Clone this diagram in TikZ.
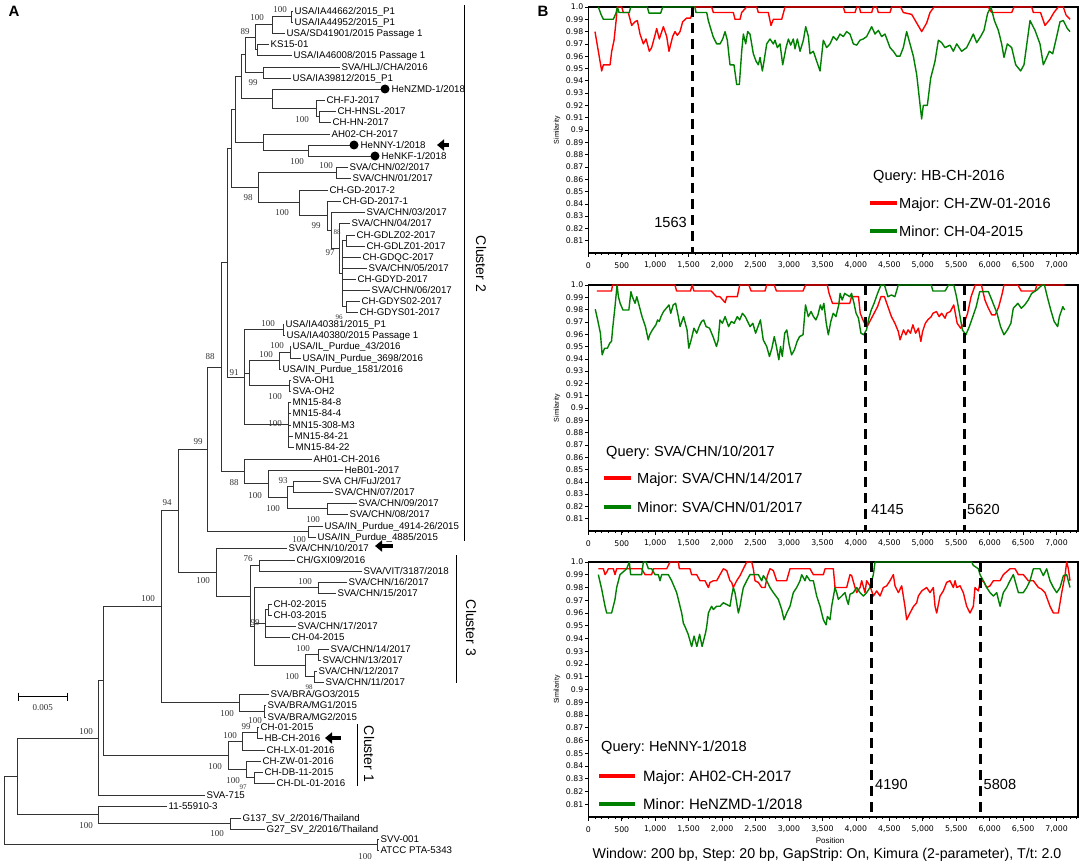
\documentclass[tikz,border=0pt]{standalone}
\usepackage{fontspec}
\setmainfont{Liberation Sans}
\newfontfamily\bsfont{Liberation Serif}
\newfontfamily\tickfont{DejaVu Sans}
\usetikzlibrary{arrows.meta}
\frenchspacing
\definecolor{simred}{RGB}{255,0,0}
\definecolor{simgreen}{RGB}{0,128,0}
\tikzset{
 br/.style={line width=0.9pt, draw=black!80},
 tip/.style={anchor=base west, inner sep=0pt, yshift=-3.5pt, font=\fontsize{9.7}{10}\selectfont},
 bs/.style={inner sep=0pt, font=\bsfont\fontsize{9}{10}\selectfont, text=black!80},
 bssmall/.style={inner sep=0pt, font=\bsfont\fontsize{7}{8}\selectfont, text=black!80},
 dot/.style={circle, fill=black, inner sep=0pt, minimum size=9pt},
 flagarrow/.style={line width=4.5pt, -{Triangle[length=7pt,width=11pt]}},
 clusterbar/.style={line width=1pt},
 clusterlab/.style={rotate=-90, font=\fontsize{14}{16}\selectfont, inner sep=0pt},
 panellab/.style={font=\bfseries\fontsize{15}{16}\selectfont, inner sep=0pt},
 frame/.style={line width=1.3pt},
 ylab/.style={anchor=east, inner sep=0pt, font=\tickfont\fontsize{7.8}{9}\selectfont},
 xlab/.style={inner sep=0pt, font=\tickfont\fontsize{7.8}{9}\selectfont},
 simlab/.style={rotate=90, inner sep=0pt, font=\fontsize{7}{8}\selectfont},
 redcurve/.style={draw=simred, line width=1.4pt, line join=round},
 greencurve/.style={draw=simgreen, line width=1.4pt, line join=round},
 breakline/.style={line width=3pt, dash pattern=on 10pt off 6pt},
 legtext/.style={anchor=base west, inner sep=0pt, yshift=-5.2pt, font=\fontsize{14.6}{16}\selectfont},
 redleg/.style={draw=simred, line width=4pt},
 greenleg/.style={draw=simgreen, line width=4pt},
 bigtext/.style={inner sep=0pt, font=\fontsize{14.6}{16}\selectfont},
}
\newcommand\simaxes[2]{%
 \pgfmathsetmacro\ybot{#1+0.2*#2}
 \pgfmathsetmacro\ystep{#2/100}
 \draw[frame] (588.3,#1) rectangle (1078,\ybot);
 \foreach \i/\lab in {0/1.0,1/0.99,2/0.98,3/0.97,4/0.96,5/0.95,6/0.94,7/0.93,8/0.92,9/0.91,10/0.9,11/0.89,12/0.88,13/0.87,14/0.86,15/0.85,16/0.84,17/0.83,18/0.82,19/0.81}{
   \pgfmathsetmacro\yy{#1+\i*\ystep}
   \draw[line width=0.6pt] (585,\yy) -- (588.3,\yy);
   \node[ylab] at (583.5,\yy) {\lab};
 }
 \foreach \p/\lab in {0/0,500/500,1000/{1,000},1500/{1,500},2000/{2,000},2500/{2,500},3000/{3,000},3500/{3,500},4000/{4,000},4500/{4,500},5000/{5,000},5500/{5,500},6000/{6,000},6500/{6,500},7000/{7,000}}{
   \pgfmathsetmacro\xx{588.3+0.0669*\p}
   \draw[line width=0.6pt] (\xx,\ybot) -- ({\xx},{\ybot+4});
   \node[xlab] at ({\xx},{\ybot+12.5}) {\lab};
 }
 \foreach \p in {100,200,...,7300}{
   \pgfmathsetmacro\xx{588.3+0.0669*\p}
   \draw[line width=0.4pt] (\xx,\ybot) -- ({\xx},{\ybot+2});
 }
 \node[simlab] at (557,{#1+0.1*#2}) {Similarity};
}
\begin{document}
\begin{tikzpicture}[x=1pt,y=-1pt]
\useasboundingbox[fill=white] (0,0) rectangle (1084,864);

% ---------------- Panel A: tree ----------------
\node[panellab] (labA) at (14,11) {A};

% branches
\draw[br] (293,11) -- (291,11) -- (291,22) -- (293,22);
\draw[br] (291,16.5) -- (272,16.5) -- (272,33) -- (285,33);
\draw[br] (269,44) -- (257,44) -- (257,55) -- (292,55);
\draw[br] (272,24.75) -- (255,24.75) -- (255,49.5) -- (257,49.5);
\draw[br] (340,67) -- (263,67) -- (263,78) -- (291,78);
\draw[br] (255,37.1) -- (245,37.1) -- (245,72.5) -- (263,72.5);
\draw[br] (336,111) -- (319,111) -- (319,122) -- (331,122);
\draw[br] (325,100) -- (316,100) -- (316,116.5) -- (319,116.5);
\draw[br] (381,89) -- (272,89) -- (272,108.25) -- (316,108.25);
\draw[br] (245,54.8) -- (241,54.8) -- (241,98.6) -- (272,98.6);
\draw[br] (350,145) -- (308,145) -- (308,156) -- (371,156);
\draw[br] (330,134) -- (263,134) -- (263,150.5) -- (308,150.5);
\draw[br] (241,76.7) -- (235,76.7) -- (235,142.25) -- (263,142.25);
\draw[br] (348,167) -- (336,167) -- (336,178) -- (351,178);
\draw[br] (360,301) -- (346,301) -- (346,312) -- (358,312);
\draw[br] (355,235) -- (346,235) -- (346,246) -- (365,246);
\draw[br] (346,240.5) -- (342,240.5) -- (342,306.5) -- (346,306.5);
\draw[br] (342,257) -- (361,257) (342,268) -- (367,268) (342,279) -- (356,279) (342,290) -- (370,290);
\draw[br] (350,223) -- (339,223) -- (339,273.5) -- (342,273.5);
\draw[br] (365,212) -- (331,212) -- (331,248.25) -- (339,248.25);
\draw[br] (341,201) -- (327,201) -- (327,230.1) -- (331,230.1);
\draw[br] (328,190) -- (299,190) -- (299,215.6) -- (327,215.6);
\draw[br] (336,172.5) -- (258,172.5) -- (258,202.8) -- (299,202.8);
\draw[br] (235,109.5) -- (231,109.5) -- (231,187.65) -- (258,187.65);
\draw[br] (284,324) -- (283,324) -- (283,335) -- (285,335);
\draw[br] (291,346) -- (290,346) -- (290,358) -- (301,358);
\draw[br] (290,352) -- (279,352) -- (279,369) -- (281,369);
\draw[br] (291,380) -- (289,380) -- (289,391) -- (291,391);
\draw[br] (279,360.5) -- (249,360.5) -- (249,385.5) -- (289,385.5);
\draw[br] (291,402) -- (288,402) -- (288,447) -- (294,447) (288,413) -- (291,413) (288,425) -- (291,425) (288,436) -- (293,436);
\draw[br] (283,329.5) -- (244,329.5) -- (244,424.5) -- (288,424.5) (244,373) -- (249,373);
\draw[br] (231,148.6) -- (227,148.6) -- (227,377) -- (244,377);
\draw[br] (321,481) -- (293,481) -- (293,492) -- (333,492);
\draw[br] (357,503) -- (327,503) -- (327,514) -- (348,514);
\draw[br] (293,486.5) -- (287,486.5) -- (287,508.5) -- (327,508.5);
\draw[br] (343,470) -- (268,470) -- (268,497.5) -- (287,497.5);
\draw[br] (312,459) -- (244,459) -- (244,483.75) -- (268,483.75);
\draw[br] (227,262.8) -- (221,262.8) -- (221,471.4) -- (244,471.4);
\draw[br] (323,526) -- (308,526) -- (308,537) -- (316,537);
\draw[br] (221,367.1) -- (207,367.1) -- (207,531.5) -- (308,531.5);
\draw[br] (295,560) -- (259,560) -- (259,571) -- (362,571);
\draw[br] (347,582) -- (318,582) -- (318,593) -- (336,593);
\draw[br] (272,604) -- (268,604) -- (268,615) -- (272,615);
\draw[br] (268,609.5) -- (265,609.5) -- (265,637) -- (290,637) (265,626) -- (296,626);
\draw[br] (329,649) -- (318,649) -- (318,660) -- (321,660);
\draw[br] (317,671) -- (314,671) -- (314,682) -- (324,682);
\draw[br] (318,654.5) -- (305,654.5) -- (305,676.5) -- (314,676.5);
\draw[br] (318,587.5) -- (254,587.5) -- (254,665.5) -- (305,665.5) (254,623.25) -- (265,623.25);
\draw[br] (259,565.5) -- (250,565.5) -- (250,626.5) -- (254,626.5);
\draw[br] (287,548) -- (216,548) -- (216,596) -- (250,596);
\draw[br] (207,449.3) -- (178,449.3) -- (178,572) -- (216,572);
\draw[br] (266,705) -- (264,705) -- (264,717) -- (266,717);
\draw[br] (269,694) -- (239,694) -- (239,711) -- (264,711);
\draw[br] (178,510.65) -- (161,510.65) -- (161,702.5) -- (239,702.5);
\draw[br] (259,727) -- (257,727) -- (257,738) -- (263,738);
\draw[br] (257,732.5) -- (242,732.5) -- (242,750) -- (265,750);
\draw[br] (263,772) -- (254,772) -- (254,783) -- (275,783);
\draw[br] (261,761) -- (246,761) -- (246,777.5) -- (254,777.5);
\draw[br] (242,741.25) -- (228,741.25) -- (228,769.25) -- (246,769.25);
\draw[br] (161,606.6) -- (103,606.6) -- (103,755.25) -- (228,755.25);
\draw[br] (103,680.9) -- (98,680.9) -- (98,795) -- (205,795);
\draw[br] (241,818) -- (230,818) -- (230,829) -- (265,829);
\draw[br] (167,806) -- (98,806) -- (98,823.5) -- (230,823.5);
\draw[br] (98,737.95) -- (17,737.95) -- (17,814.75) -- (98,814.75);
\draw[br] (379,839) -- (377,839) -- (377,850) -- (379,850);
\draw[br] (17,776.35) -- (4,776.35) -- (4,844.5) -- (377,844.5);

% tip labels
\node[tip] (t01) at (294.5,11) {USA/IA44662/2015\_P1};
\node[tip] (t02) at (294.5,22) {USA/IA44952/2015\_P1};
\node[tip] (t03) at (286.5,33) {USA/SD41901/2015 Passage 1};
\node[tip] (t04) at (270.5,44) {KS15-01};
\node[tip] (t05) at (293.5,55) {USA/IA46008/2015 Passage 1};
\node[tip] (t06) at (341.5,67) {SVA/HLJ/CHA/2016};
\node[tip] (t07) at (292.5,78) {USA/IA39812/2015\_P1};
\node[tip] (t08) at (391.5,89) {HeNZMD-1/2018};
\node[tip] (t09) at (326.5,100) {CH-FJ-2017};
\node[tip] (t10) at (337.5,111) {CH-HNSL-2017};
\node[tip] (t11) at (332.5,122) {CH-HN-2017};
\node[tip] (t12) at (331.5,134) {AH02-CH-2017};
\node[tip] (t13) at (360.5,145) {HeNNY-1/2018};
\node[tip] (t14) at (381.5,156) {HeNKF-1/2018};
\node[tip] (t15) at (349.5,167) {SVA/CHN/02/2017};
\node[tip] (t16) at (352.5,178) {SVA/CHN/01/2017};
\node[tip] (t17) at (329.5,190) {CH-GD-2017-2};
\node[tip] (t18) at (342.5,201) {CH-GD-2017-1};
\node[tip] (t19) at (366.5,212) {SVA/CHN/03/2017};
\node[tip] (t20) at (351.5,223) {SVA/CHN/04/2017};
\node[tip] (t21) at (356.5,235) {CH-GDLZ02-2017};
\node[tip] (t22) at (366.5,246) {CH-GDLZ01-2017};
\node[tip] (t23) at (362.5,257) {CH-GDQC-2017};
\node[tip] (t24) at (368.5,268) {SVA/CHN/05/2017};
\node[tip] (t25) at (357.5,279) {CH-GDYD-2017};
\node[tip] (t26) at (371.5,290) {SVA/CHN/06/2017};
\node[tip] (t27) at (361.5,301) {CH-GDYS02-2017};
\node[tip] (t28) at (359.5,312) {CH-GDYS01-2017};
\node[tip] (t29) at (285.5,324) {USA/IA40381/2015\_P1};
\node[tip] (t30) at (286.5,335) {USA/IA40380/2015 Passage 1};
\node[tip] (t31) at (292.5,346) {USA/IL\_Purdue\_43/2016};
\node[tip] (t32) at (302.5,358) {USA/IN\_Purdue\_3698/2016};
\node[tip] (t33) at (282.5,369) {USA/IN\_Purdue\_1581/2016};
\node[tip] (t34) at (292.5,380) {SVA-OH1};
\node[tip] (t35) at (292.5,391) {SVA-OH2};
\node[tip] (t36) at (292.5,402) {MN15-84-8};
\node[tip] (t37) at (292.5,413) {MN15-84-4};
\node[tip] (t38) at (292.5,425) {MN15-308-M3};
\node[tip] (t39) at (294.5,436) {MN15-84-21};
\node[tip] (t40) at (295.5,447) {MN15-84-22};
\node[tip] (t41) at (313.5,459) {AH01-CH-2016};
\node[tip] (t42) at (344.5,470) {HeB01-2017};
\node[tip] (t43) at (322.5,481) {SVA CH/FuJ/2017};
\node[tip] (t44) at (334.5,492) {SVA/CHN/07/2017};
\node[tip] (t45) at (358.5,503) {SVA/CHN/09/2017};
\node[tip] (t46) at (349.5,514) {SVA/CHN/08/2017};
\node[tip] (t47) at (324.5,526) {USA/IN\_Purdue\_4914-26/2015};
\node[tip] (t48) at (317.5,537) {USA/IN\_Purdue\_4885/2015};
\node[tip] (t49) at (288.5,548) {SVA/CHN/10/2017};
\node[tip] (t50) at (296.5,560) {CH/GXI09/2016};
\node[tip] (t51) at (363.5,571) {SVA/VIT/3187/2018};
\node[tip] (t52) at (348.5,582) {SVA/CHN/16/2017};
\node[tip] (t53) at (337.5,593) {SVA/CHN/15/2017};
\node[tip] (t54) at (273.5,604) {CH-02-2015};
\node[tip] (t55) at (273.5,615) {CH-03-2015};
\node[tip] (t56) at (297.5,626) {SVA/CHN/17/2017};
\node[tip] (t57) at (291.5,637) {CH-04-2015};
\node[tip] (t58) at (330.5,649) {SVA/CHN/14/2017};
\node[tip] (t59) at (322.5,660) {SVA/CHN/13/2017};
\node[tip] (t60) at (318.5,671) {SVA/CHN/12/2017};
\node[tip] (t61) at (325.5,682) {SVA/CHN/11/2017};
\node[tip] (t62) at (270.5,694) {SVA/BRA/GO3/2015};
\node[tip] (t63) at (267.5,705) {SVA/BRA/MG1/2015};
\node[tip] (t64) at (267.5,717) {SVA/BRA/MG2/2015};
\node[tip] (t65) at (260.5,727) {CH-01-2015};
\node[tip] (t66) at (264.5,738) {HB-CH-2016};
\node[tip] (t67) at (266.5,750) {CH-LX-01-2016};
\node[tip] (t68) at (262.5,761) {CH-ZW-01-2016};
\node[tip] (t69) at (264.5,772) {CH-DB-11-2015};
\node[tip] (t70) at (276.5,783) {CH-DL-01-2016};
\node[tip] (t71) at (206.5,795) {SVA-715};
\node[tip] (t72) at (168.5,806) {11-55910-3};
\node[tip] (t73) at (242.5,818) {G137\_SV\_2/2016/Thailand};
\node[tip] (t74) at (266.5,829) {G27\_SV\_2/2016/Thailand};
\node[tip] (t75) at (380.5,839) {SVV-001};
\node[tip] (t76) at (380.5,850) {ATCC PTA-5343};

% markers
\node[dot] (dNZ) at (385,89) {};
\node[dot] (dNY) at (354,145) {};
\node[dot] (dKF) at (375,156) {};
\coordinate (a1s) at (449,145); \coordinate (a1e) at (437,145);
\coordinate (a2s) at (393,546); \coordinate (a2e) at (375,546);
\coordinate (a3s) at (341,738); \coordinate (a3e) at (325,738);
\draw[flagarrow] (a1s) -- (a1e);
\draw[flagarrow] (a2s) -- (a2e);
\draw[flagarrow] (a3s) -- (a3e);

% bootstrap values
\foreach \x/\y/\t in {280/10/100,257/18/100,245/32/89,253/83/99,302/120/100,297/162/100,326/166/100,
 248/198/98,282/213/100,316/226/99,330/253/97,268/324/100,277/346/100,266/355/100,
 234/373/91,275/397/100,275/424/100,210/357/88,198/442/99,234/483/88,283/481/93,255/496/100,273/509/100,
 313/520/100,167/503/94,248/559/76,203/581/100,305/582/100,148/599/100,255/623/99,303/649/100,
 292/677/100,227/714/100,86/732/100,255/721/100,246/727/99,230/736/100,215/767/100,233/781/100,
 86/826/100,217/834/100,365/857/100}
 \node[bs] at (\x,\y) {\t};
\node[bssmall] (bs88s) at (337,232) {88};
\node[bssmall] (bs96) at (339,317) {96};
\node[bssmall] (bs98s) at (309,687) {98};
\node[bssmall] (bs97s) at (243,787.5) {97};
\node[bs] (bs100c) at (299,539.5) {100};

% scale bar
\draw[line width=0.9pt] (18.3,692.5) -- (18.3,701) (18.3,696.7) -- (67.7,696.7) (67.7,692.5) -- (67.7,701);
\node[bs] (scl) at (42.7,708) {0.005};

% clusters
\draw[clusterbar] (464,5) -- (464,541);
\node[clusterlab] (c2) at (481,264) {Cluster 2};
\draw[clusterbar] (456,555) -- (456,683);
\node[clusterlab] (c3) at (471,628) {Cluster 3};
\draw[clusterbar] (357,724) -- (357,786);
\node[clusterlab] (c1) at (369,754) {Cluster 1};

% ---------------- Panel B ----------------
\node[panellab] (labB) at (543,11) {B};

% plot 1
\simaxes{7}{1230}
\begin{scope}[shift={(588.3,1237)}, x=0.0669pt, y=1230pt]
\draw[redcurve] plot coordinates {(100,.980) (150,.964) (200,.948) (225,.953) (325,.953) (350,.964) (385,.973) (414,.988) (434,1.0) (499,1.0) (524,.9955) (598,.9955) (648,.985) (698,.988) (733,.989) (773,.978) (823,.970) (863,.974) (912,.964) (947,.967) (997,.977) (1022,.9825) (1062,.974) (1122,.984) (1172,.976) (1206,.964) (1261,.976) (1296,.98) (1331,.977) (1371,.98) (1411,.988) (1471,.991) (1530,.991) (1580,1.0) (1844,1.0) (1869,.9955) (2168,.9955) (2193,.99) (2268,.99) (2293,.9955) (2367,1.0) (2517,1.0) (2542,.9955) (2691,.9955) (2731,.985) (2766,.99) (2891,.99) (2941,1.0) (3812,1.0) (3837,.9955) (3987,.9955) (4012,1.0) (4052,1.0) (4071,.9955) (4236,.9955) (4261,1.0) (4311,1.0) (4336,.9955) (4510,.9955) (4535,1.0) (4669,1.0) (4709,.9955) (4834,.994) (4909,.987) (4984,.98) (5058,.987) (5108,.9955) (5168,1.0) (5980,1.0) (6030,.9955) (6329,.9955) (6364,1.0) (6628,1.0) (6653,.9955) (6760,.9955) (6827,.985) (6902,.99) (6960,.9955) (7026,1.0) (7101,1.0) (7141,.9935) (7201,.99)};
\draw[greencurve] plot coordinates {(150,1.0) (190,.994) (225,.99) (374,.99) (414,.995) (434,1.0) (459,.9955) (613,.9955) (633,1.0) (882,1.0) (907,.995) (1082,.995) (1112,1.0) (1595,1.0) (1610,.9955) (1770,.9955) (1794,.989) (1829,.9825) (1869,.9755) (1919,.97) (1969,.97) (2009,.974) (2044,.98) (2078,.973) (2118,.953) (2178,.953) (2218,.937) (2258,.937) (2293,.964) (2318,.978) (2353,.97) (2382,.98) (2417,.978) (2467,.962) (2507,.956) (2542,.953) (2567,.959) (2602,.948) (2627,.956) (2667,.97) (2716,.974) (2766,.97) (2791,.973) (2826,.967) (2866,.97) (2906,.953) (2956,.967) (2991,.974) (3025,.969) (3065,.974) (3090,.966) (3125,.974) (3165,.964) (3215,.973) (3250,.984) (3290,.976) (3314,.962) (3364,.964) (3414,.956) (3464,.948) (3513,.973) (3563,.967) (3613,.97) (3663,.976) (3713,.973) (3762,.978) (3812,.976) (3862,.98) (3912,.978) (3962,.97) (4012,.969) (4061,.973) (4111,.974) (4161,.976) (4236,.984) (4286,.978) (4336,.981) (4385,.976) (4435,.978) (4510,.967) (4560,.964) (4610,.96) (4659,.96) (4709,.967) (4759,.98) (4809,.97) (4859,.96) (4909,.945) (4948,.926) (4983,.909) (5008,.92) (5068,.92) (5118,.942) (5183,.956) (5233,.973) (5282,.971) (5332,.967) (5407,.969) (5457,.964) (5507,.97) (5581,.964) (5656,.967) (5756,.978) (5806,.971) (5865,.976) (5915,.981) (5970,.995) (6020,1.0) (6070,.989) (6130,.981) (6179,.97) (6214,.959) (6264,.97) (6329,.967) (6389,.953) (6463,.948) (6513,.953) (6603,.989) (6678,.981) (6752,.97) (6802,.953) (6852,.959) (6892,.964) (6942,.962) (7002,.976) (7051,.988) (7101,.989) (7161,.9825) (7201,.98)};
\end{scope}
\coordinate (b1t) at (692.9,7); \coordinate (b1b) at (692.9,253);
\draw[breakline] (b1t) -- (b1b);
\node[bigtext, anchor=east] (l1563) at (687,222) {1563};
\node[legtext] (q1) at (873,175) {Query: HB-CH-2016};
\coordinate (r1a) at (870,203); \coordinate (r1b) at (897,203);
\draw[redleg] (r1a) -- (r1b);
\node[legtext] (m1) at (899,203) {Major: CH-ZW-01-2016};
\coordinate (g1a) at (870,231); \coordinate (g1b) at (897,231);
\draw[greenleg] (g1a) -- (g1b);
\node[legtext] (n1) at (899,231) {Minor: CH-04-2015};

% plot 2
\simaxes{285}{1230}
\begin{scope}[shift={(588.3,1515)}, x=0.0669pt, y=1230pt]
\draw[redcurve] plot coordinates {(129,.9951) (347,.9951) (362,1.0) (1295,1.0) (1320,.9951) (1527,.9951) (1553,1.0) (1579,.9951) (1838,.9951) (1916,.9905) (1968,.9905) (2045,.9857) (2071,.9905) (2227,.9905) (2263,1.0) (2400,1.0) (2434,.9951) (2641,.9951) (2667,1.0) (2780,1.0) (2812,.9951) (3210,.9951) (3247,1.0) (3573,1.0) (3599,.9932) (3650,.9851) (3702,.9851) (3909,.9851) (3935,.9905) (4039,.9905) (4065,.977) (4116,.9703) (4168,.9662) (4220,.9716) (4272,.977) (4324,.9824) (4375,.9905) (4427,.9905) (4479,.9824) (4531,.9743) (4583,.9689) (4634,.9622) (4660,.9554) (4686,.9595) (4712,.9635) (4748,.9595) (4779,.9635) (4816,.9608) (4852,.9676) (4893,.9608) (4935,.9649) (4971,.9541) (4997,.9622) (5038,.9689) (5074,.9716) (5126,.9743) (5152,.977) (5204,.9784) (5245,.9743) (5282,.977) (5333,.973) (5359,.977) (5411,.9784) (5463,.9838) (5514,.9689) (5566,.9649) (5618,.9689) (5670,.977) (5722,.9905) (5784,1.0) (5877,1.0) (5929,.9878) (5981,.9811) (6032,.9757) (6084,.9757) (6136,.9824) (6188,.9932) (6214,1.0) (6421,1.0) (6473,.9951) (6680,.9951) (6705,1.0) (7120,1.0)};
\draw[greencurve] plot coordinates {(104,.9803) (140,.9716) (181,.9608) (207,.9432) (243,.9486) (285,.9486) (321,.9527) (347,.9541) (362,.9635) (399,.9824) (430,1.0) (450,.9905) (476,.9851) (518,.9797) (606,.9797) (637,.9946) (658,.9905) (699,.9851) (725,.9905) (751,.9851) (803,.9743) (854,.9662) (896,.9554) (917,.9595) (958,.9635) (1010,.9676) (1036,.9716) (1061,.9703) (1087,.9743) (1124,.9784) (1165,.9811) (1206,.9838) (1232,.977) (1269,.9838) (1305,.9851) (1346,.9743) (1372,.9662) (1424,.9743) (1476,.9635) (1502,.9486) (1538,.9554) (1579,.9649) (1621,.9608) (1657,.9662) (1693,.9703) (1724,.9716) (1761,.9662) (1812,.9649) (1864,.9581) (1916,.95) (1942,.9554) (1968,.9716) (2004,.9689) (2045,.9743) (2097,.9662) (2139,.9703) (2180,.9689) (2227,.9743) (2263,.9716) (2304,.977) (2346,.9743) (2382,.9703) (2418,.9662) (2460,.9689) (2501,.9608) (2537,.9662) (2573,.9716) (2615,.9554) (2667,.95) (2708,.9419) (2744,.9486) (2780,.9581) (2812,.95) (2848,.9392) (2874,.95) (2900,.9419) (2936,.9608) (2967,.9635) (3003,.9514) (3039,.9432) (3081,.9473) (3122,.9541) (3159,.9581) (3210,.9595) (3247,.9838) (3288,.9743) (3330,.9784) (3366,.9743) (3402,.9716) (3433,.9757) (3469,.9838) (3495,.9797) (3521,.9851) (3557,.9689) (3588,.9595) (3625,.9703) (3661,.977) (3702,.9743) (3744,.9838) (3764,.9932) (3795,.9878) (3832,.9932) (3868,.9919) (3909,.9905) (3935,.9932) (3972,.9851) (4003,.977) (4039,.973) (4075,.9608) (4116,.9595) (4158,.9635) (4194,.973) (4230,.9797) (4272,.9851) (4324,.9932) (4375,1.0) (4427,1.0) (4479,.9905) (4531,.9919) (4583,.9905) (4634,1.0) (5126,1.0) (5152,.9951) (5333,.9951) (5385,1.0) (5463,1.0) (5504,.9905) (5540,.9797) (5592,.9635) (5644,.9595) (5696,.9662) (5748,.9743) (5799,.9824) (5851,.9946) (5981,.9946) (6032,.9878) (6110,.977) (6162,.9662) (6214,.9595) (6265,.9635) (6317,.9689) (6353,.9811) (6421,.9851) (6473,.9811) (6524,.9838) (6576,.9878) (6628,.9932) (6705,.9959) (6783,1.0) (6819,1.0) (6861,.9905) (6913,.9797) (6964,.9703) (7016,.9662) (7042,.9743) (7094,.9824) (7120,.9797)};
\end{scope}
\coordinate (b2t) at (865.6,285); \coordinate (b2b) at (865.6,531);
\coordinate (b3t) at (964.3,285); \coordinate (b3b) at (964.3,531);
\draw[breakline] (b2t) -- (b2b);
\draw[breakline] (b3t) -- (b3b);
\node[bigtext, anchor=base west, yshift=-5.2pt] (l4145) at (871,509) {4145};
\node[bigtext, anchor=base west, yshift=-5.2pt] (l5620) at (967,509) {5620};
\node[legtext] (q2) at (606,451) {Query: SVA/CHN/10/2017};
\coordinate (r2a) at (604,478); \coordinate (r2b) at (631,478);
\draw[redleg] (r2a) -- (r2b);
\node[legtext] (m2) at (637,478) {Major: SVA/CHN/14/2017};
\coordinate (g2a) at (604,507); \coordinate (g2b) at (631,507);
\draw[greenleg] (g2a) -- (g2b);
\node[legtext] (n2) at (637,507) {Minor: SVA/CHN/01/2017};

% plot 3
\simaxes{562}{1275}
\begin{scope}[shift={(588.3,1837)}, x=0.0669pt, y=1275pt]
\draw[redcurve] plot coordinates {(150,.9947) (225,.9947) (250,.9901) (275,.992) (300,.9947) (374,.9947) (399,.9901) (424,.9947) (798,.9947) (848,.9901) (947,.9901) (972,.9947) (1172,.9947) (1221,1.0) (1346,1.0) (1361,.9947) (1520,.9947) (1545,.9901) (1620,.9901) (1670,.9853) (1745,.9853) (1795,.98) (1819,.984) (1869,.9853) (1919,.9853) (1969,.9901) (2019,.9947) (2069,.9933) (2118,.9853) (2143,.984) (2168,.98) (2218,.9853) (2268,.9893) (2318,.9947) (2368,1.0) (2442,1.0) (2467,.9947) (2492,.9853) (2542,.984) (2592,.98) (2642,.98) (2677,.9893) (2716,.9947) (2766,.9933) (2816,.9853) (2965,.9853) (3015,.9947) (3314,.9947) (3364,.9901) (3514,.9901) (3539,.9947) (3663,.9947) (3688,.98) (3862,.98) (3912,.9901) (3937,.9893) (3987,.98) (4012,.976) (4062,.98) (4087,.9853) (4136,.976) (4161,.9853) (4211,.9813) (4261,.9733) (4311,.9773) (4361,.9733) (4411,.98) (4460,.9813) (4510,.9853) (4560,.9901) (4585,.9813) (4635,.976) (4685,.9813) (4734,.965) (4759,.9547) (4809,.96) (4859,.965) (4909,.968) (4934,.9733) (4984,.9773) (5058,.98) (5108,.976) (5158,.98) (5183,.9653) (5208,.96) (5258,.9733) (5307,.9773) (5357,.984) (5407,.9853) (5457,.98) (5482,.9853) (5507,.98) (5557,.9813) (5606,.976) (5656,.9653) (5706,.96) (5756,.9653) (5781,.98) (5831,.9773) (5856,.984) (5905,.9853) (5955,.98) (6005,.9813) (6055,.9853) (6155,.9853) (6204,.9901) (6304,.9947) (6379,.9947) (6429,.9901) (6503,.9901) (6578,.9853) (6653,.9853) (6728,.98) (6777,.9787) (6827,.976) (6902,.9653) (6952,.96) (7027,.96) (7077,.976) (7126,.9893) (7151,1.0) (7176,.9947) (7201,.9853)};
\draw[greencurve] plot coordinates {(150,.9901) (200,.9787) (250,.9653) (275,.96) (349,.96) (374,.9653) (399,.9707) (424,.98) (474,.9901) (574,.9947) (613,1.0) (633,.9901) (798,.9901) (823,1.0) (863,1.0) (898,.9947) (947,.9947) (997,.9901) (1047,.9901) (1072,.9853) (1097,.9901) (1196,.9901) (1246,.9853) (1321,.976) (1371,.9653) (1396,.96) (1421,.952) (1446,.9493) (1493,.9433) (1545,.9337) (1581,.9419) (1623,.9337) (1664,.9433) (1701,.9337) (1753,.9446) (1770,.9493) (1795,.96) (1819,.9627) (1844,.9653) (1869,.9627) (1919,.9653) (1969,.9653) (2019,.968) (2069,.9667) (2118,.9653) (2143,.9733) (2168,.98) (2193,.976) (2218,.968) (2243,.96) (2268,.9653) (2293,.9733) (2318,.98) (2368,.9853) (2417,.9901) (2542,.9901) (2592,.9853) (2617,.9893) (2667,.9853) (2716,.98) (2766,.976) (2841,.9707) (2891,.9627) (2926,.9547) (2966,.96) (3015,.9653) (3065,.976) (3115,.98) (3165,.9853) (3190,.9901) (3239,.9853) (3264,.9893) (3314,.9853) (3364,.9853) (3414,.9733) (3464,.9653) (3514,.9547) (3554,.9507) (3574,.9573) (3613,.9547) (3638,.9653) (3688,.98) (3713,.976) (3738,.9707) (3788,.9733) (3838,.976) (3862,.9707) (3887,.9667) (3912,.9747) (3962,.976) (4012,.98) (4062,.976) (4112,.9733) (4161,.976) (4211,.98) (4261,.9901) (4286,1.0) (5731,1.0) (5756,.9973) (5831,.9947) (5856,.9901) (5905,.9853) (5955,.98) (6005,.976) (6055,.9733) (6105,.976) (6155,.9653) (6204,.976) (6254,.98) (6304,.9853) (6354,.9901) (6379,.9853) (6429,.976) (6503,.976) (6553,.98) (6603,.9853) (6653,.9947) (6752,.9947) (6802,.9893) (6852,.9947) (6902,.9853) (6952,.98) (7002,.976) (7052,.98) (7102,.9893) (7151,.9901) (7201,.98)};
\end{scope}
\coordinate (b4t) at (871,562); \coordinate (b4b) at (871,817);
\coordinate (b5t) at (980.5,562); \coordinate (b5b) at (980.5,817);
\draw[breakline] (b4t) -- (b4b);
\draw[breakline] (b5t) -- (b5b);
\node[bigtext, anchor=base west, yshift=-5.2pt] (l4190) at (875,784) {4190};
\node[bigtext, anchor=base west, yshift=-5.2pt] (l5808) at (983.5,784) {5808};
\node[legtext] (q3) at (601,746) {Query: HeNNY-1/2018};
\coordinate (r3a) at (599,776); \coordinate (r3b) at (635,776);
\draw[redleg] (r3a) -- (r3b);
\node[legtext, font=\fontsize{15}{16}\selectfont] (m3) at (643,776) {Major: AH02-CH-2017};
\coordinate (g3a) at (599,804); \coordinate (g3b) at (635,804);
\draw[greenleg] (g3a) -- (g3b);
\node[legtext, font=\fontsize{15}{16}\selectfont] (n3) at (643,804) {Minor: HeNZMD-1/2018};
\node[inner sep=0pt, font=\fontsize{8}{9}\selectfont] (pos) at (830,841) {Position};
\node[inner sep=0pt, font=\fontsize{14.2}{16}\selectfont] (win) at (827,855) {Window: 200 bp, Step: 20 bp, GapStrip: On, Kimura (2-parameter), T/t: 2.0};
\end{tikzpicture}
\end{document}
